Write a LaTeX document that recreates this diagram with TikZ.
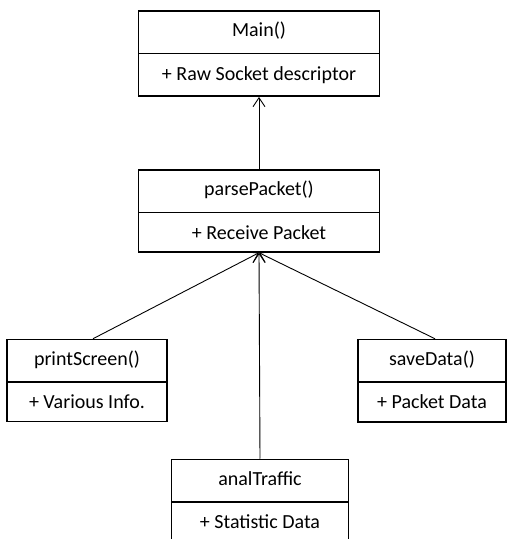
\documentclass[tikz,border=0pt]{standalone}
\usepackage{fontspec}
\setmainfont{Carlito}
\usetikzlibrary{positioning,shapes.multipart,arrows.meta}

\begin{document}
\begin{tikzpicture}[x=1pt, y=1pt, font=\fontsize{20}{23}\selectfont,
		class/.style = {draw, line width=1.6pt, rectangle split, rectangle split parts=2, text height=13pt, text depth=4pt, inner ysep=12pt, inner xsep=4pt},
		link/.style = {line width=0.9pt, -{Straight Barb[length=9pt, width=12pt]}}]
		\useasboundingbox (0,0) rectangle (514,-539);
		%% NODES
		% Top
		\node[class, minimum width=241pt, anchor=north] (main) at (259,-10) {Main() \nodepart{second} + Raw Socket descriptor};
		% Middle
		\node[class, minimum width=241pt, below=72pt of main] (parse) {parsePacket() \nodepart{second} + Receive Packet};
		% Left child
		\node[class, minimum width=160pt, below=86pt of parse.south, xshift=-172pt] (print) {printScreen() \nodepart{second} + Various Info.};
		% Right child
		\node[class, minimum width=148pt, below=86pt of parse.south, xshift=173pt] (save) {saveData() \nodepart{second} + Packet Data};
		% Bottom child (cut off at the page edge)
		\node[class, minimum width=177pt, below=206pt of parse.south, xshift=1pt] (anal) {analTraffic \nodepart{second} + Statistic Data};
		%% ARROWS
		\draw[link] (parse) -- (main);
		\draw[link] ([xshift=6pt]print.north) -- (parse.south);
		\draw[link] ([xshift=3pt]save.north) -- (parse.south);
		\draw[link] (anal.north) -- (parse.south);
	\end{tikzpicture}
\end{document}
